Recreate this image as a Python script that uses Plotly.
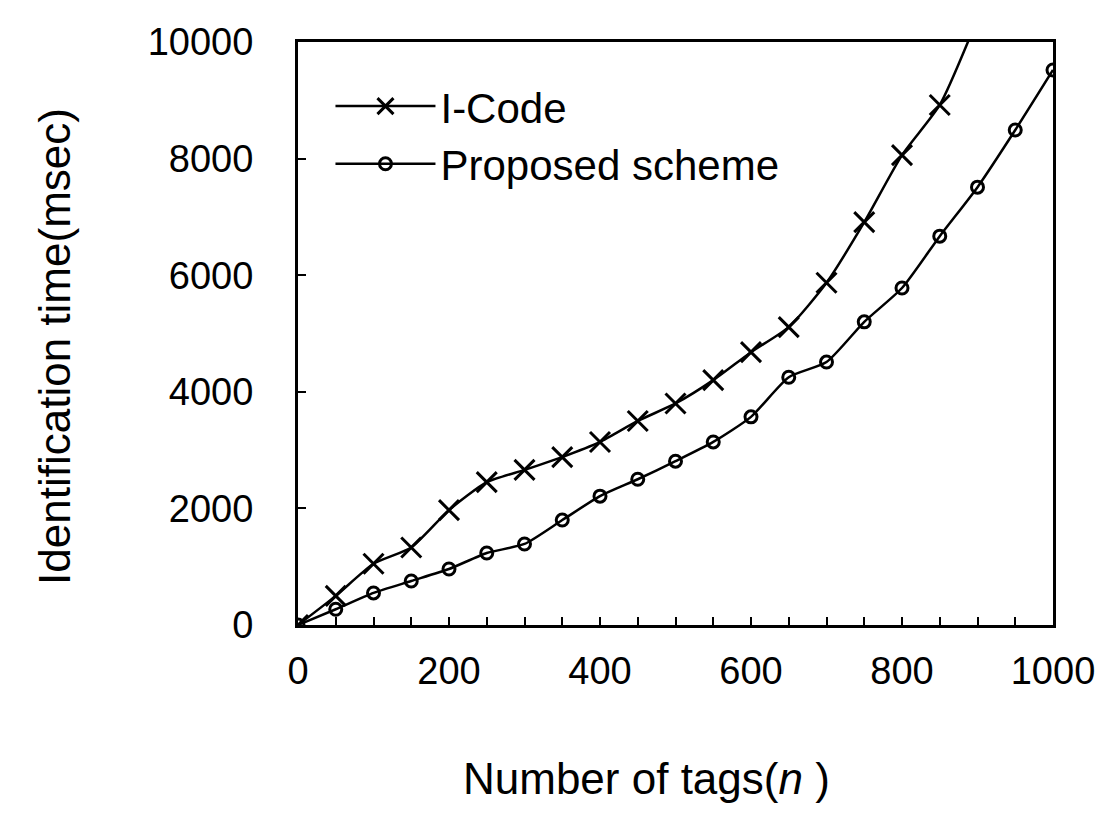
import plotly.graph_objects as go

n_tags = [0, 50, 100, 150, 200, 250, 300, 350, 400, 450, 500, 550, 600, 650, 700,
          750, 800, 850, 900, 950, 1000]
icode = [0, 500, 1050, 1330, 1970, 2450, 2660, 2880, 3140, 3500, 3800, 4200, 4680,
         5110, 5870, 6910, 8060, 8920, 10400]
proposed = [0, 270, 550, 755, 960, 1235, 1390, 1800, 2210, 2500, 2810, 3140, 3570,
            4250, 4510, 5200, 5780, 6670, 7510, 8490, 9520]
x_ticks = [0, 200, 400, 600, 800, 1000]
y_ticks = [0, 2000, 4000, 6000, 8000, 10000]
y_ticklabels = ["0", "2000", "4000", "6000", "8000", "10000"]

FONT = "Arial, Liberation Sans, sans-serif"

fig = go.Figure()
fig.add_trace(go.Scatter(
    x=n_tags[:len(icode)], y=icode, name="I-Code", mode="lines+markers",
    line=dict(color="black", width=2.5, shape="spline", smoothing=0.6),
    marker=dict(symbol="x-thin", size=20, color="black",
                line=dict(color="black", width=3)),
))
fig.add_trace(go.Scatter(
    x=n_tags, y=proposed, name="Proposed scheme", mode="lines+markers",
    line=dict(color="black", width=2.5, shape="spline", smoothing=0.6),
    marker=dict(symbol="circle-open", size=12, color="black",
                line=dict(color="black", width=3)),
))

axis_common = dict(
    showgrid=False, zeroline=False, showline=True, linecolor="black", linewidth=3,
    mirror=True, ticks="inside", ticklen=8, tickwidth=1.5, tickcolor="black",
    tickfont=dict(family=FONT, size=38, color="black"),
)
fig.update_xaxes(range=[0, 1000], tickvals=x_ticks, ticklabelstandoff=10,
                 minor=dict(dtick=50, ticks="inside", ticklen=8, tickcolor="black"),
                 **axis_common)
fig.update_yaxes(range=[0, 10000], tickvals=y_ticks, ticktext=y_ticklabels,
                 ticklabelstandoff=34, **axis_common)

fig.add_annotation(text="Number of tags(<i>n</i> )", xref="paper", yref="paper",
                   x=0.461, y=0, yanchor="middle", yshift=-153, showarrow=False,
                   font=dict(family=FONT, size=44, color="black"))
fig.add_annotation(text="Identification time(msec)", xref="paper", yref="paper",
                   x=0, y=0.477, xanchor="center", yanchor="middle", xshift=-243,
                   textangle=-90, showarrow=False,
                   font=dict(family=FONT, size=44, color="black"))

fig.update_layout(
    width=1115, height=815,
    margin=dict(l=298, r=62, t=42, b=190),
    paper_bgcolor="white", plot_bgcolor="white",
    showlegend=True,
    legend=dict(x=0.043, y=0.948, xanchor="left", yanchor="top",
                bgcolor="rgba(0,0,0,0)", itemwidth=100, tracegroupgap=0,
                font=dict(family=FONT, size=42, color="black")),
)

fig.write_html("out.html")
